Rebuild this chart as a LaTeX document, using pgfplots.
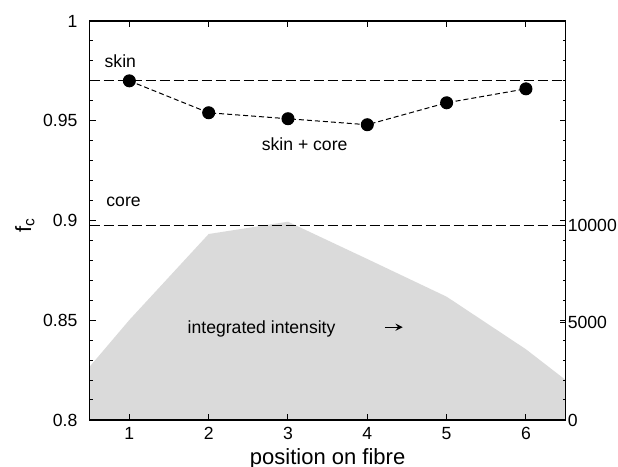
\documentclass[border=0pt]{standalone}
\usepackage{fontspec}
\setmainfont{Liberation Sans}
\usepackage{pgfplots}
\pgfplotsset{compat=1.18}
\definecolor{intens}{RGB}{218,218,218}
\newcommand\fs{\fontsize{8.8}{10}\selectfont}
\newcommand\fl{\fontsize{11}{13}\selectfont}

\pgfplotsset{
  fibre/.style={
    scale only axis, width=238pt, height=199.5pt,
    xmin=0.5, xmax=6.5,
    tick align=inside,
    major tick length=3pt, minor tick length=1.5pt,
    tick style={black, line width=0.5pt},
    ticklabel style={font=\fs},
    /pgf/number format/assume math mode=true,
    /pgf/number format/1000 sep={},
    label style={font=\fl},
  }
}

\begin{document}
\begin{tikzpicture}
% integrated intensity on the right axis
\begin{axis}[
  fibre,
  ymin=0, ymax=20540,
  axis x line=none, axis y line*=right,
  axis on top,
  ytick={0,5000,10000}, minor ytick={},
  scaled y ticks=false,
  yticklabel style={xshift=-2.4pt},
  axis line style={line width=0.6pt},
]
\addplot[fill=intens, draw=none] coordinates {
  (0.5,0) (0.5,2743) (1,5147) (2,9573) (3,10206) (4,8286) (5,6346) (6,3639) (6.5,2059) (6.5,0)
} \closedcycle;
\end{axis}

% f_c on the left axis
\begin{axis}[
  fibre,
  name=ax,
  ymin=0.8, ymax=1,
  xtick={1,2,3,4,5,6},
  ytick={0.8,0.85,0.9,0.95,1},
  minor y tick num=4,
  xtick pos=both, xticklabel pos=lower,
  ytick pos=both, yticklabel pos=left,
  yticklabel style={xshift=-2.6pt},
  axis line style={line width=0.6pt},
  xlabel={position on fibre},
  ylabel={f\textsubscript{c}},
  xlabel style={at={(axis description cs:0.5,-0.1128)}, anchor=base},
  ylabel style={at={(axis description cs:-0.1233,0.489)}, anchor=base},
  clip=false,
]
\addplot[black, line width=0.5pt, dash pattern=on 5pt off 2pt] coordinates {(0.5,0.970) (6.5,0.970)};
\addplot[black, line width=0.5pt, dash pattern=on 5pt off 2pt] coordinates {(0.5,0.8975) (6.5,0.8975)};
\addplot[black, line width=0.5pt, dash pattern=on 2.5pt off 1.5pt,
  mark=*, mark size=3pt, mark options={solid}] coordinates {
  (1,0.970) (2,0.954) (3,0.951) (4,0.948) (5,0.959) (6,0.966)
};
\node[font=\fs, inner sep=0pt, anchor=base west] at (axis cs:0.684,0.9766) {skin};
\node[font=\fs, inner sep=0pt, anchor=base west] at (axis cs:0.706,0.9069) {core};
\node[font=\fs, inner sep=0pt, anchor=base] at (axis cs:3.21,0.9353) {skin + core};
\node[font=\fs, inner sep=0pt, anchor=base west] at (axis cs:1.731,0.8434) {integrated intensity};
\draw[-stealth, line width=0.6pt] (axis cs:4.223,0.8465) -- (axis cs:4.446,0.8465);
\end{axis}

\pgfresetboundingbox
\path ([shift={(-44.85pt,-23.5pt)}]ax.south west) rectangle ([shift={(26.2pt,10.5pt)}]ax.north east);
\end{tikzpicture}
\end{document}
